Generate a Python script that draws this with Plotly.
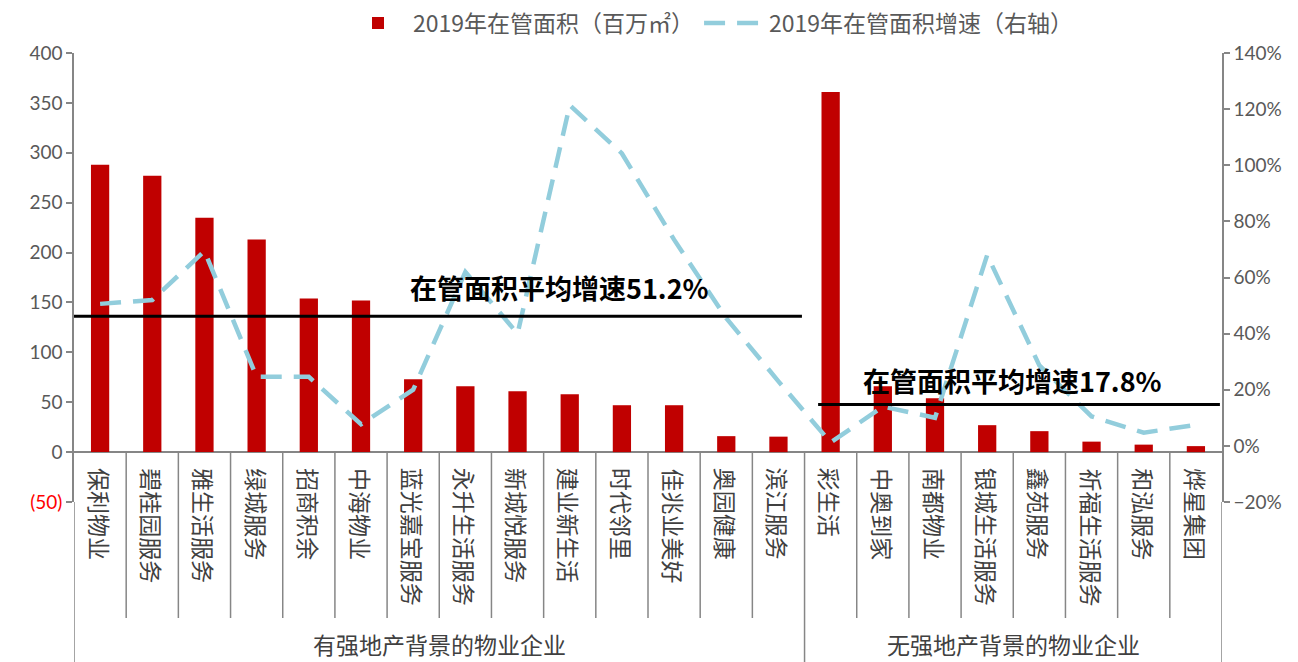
import plotly.graph_objects as go

# ---------------- data ----------------
group1 = ["保利物业", "碧桂园服务", "雅生活服务", "绿城服务", "招商积余", "中海物业", "蓝光嘉宝服务",
          "永升生活服务", "新城悦服务", "建业新生活", "时代邻里", "佳兆业美好", "奥园健康", "滨江服务"]
group2 = ["彩生活", "中奥到家", "南都物业", "银城生活服务", "鑫苑服务", "祈福生活服务", "和泓服务", "烨星集团"]
categories = group1 + group2
group_names = ["有强地产背景的物业企业", "无强地产背景的物业企业"]

area_2019 = [288, 277, 235, 213, 154, 152, 73, 66, 61, 58, 47, 47, 16, 15.5,
             361, 66, 54, 27, 21, 10.5, 7.5, 6]
growth_2019 = [0.506, 0.520, 0.694, 0.246, 0.246, 0.077, 0.20, 0.62, 0.40, 1.214, 1.042, 0.735, 0.455, 0.23,
               0.012, 0.14, 0.10, 0.68, 0.287, 0.105, 0.047, 0.075]

avg_labels = ["在管面积平均增速51.2%", "在管面积平均增速17.8%"]

left_tickvals = [-50, 0, 50, 100, 150, 200, 250, 300, 350, 400]
left_ticktext = ["<span style='color:#FF0000'>(50)</span>", "0", "50", "100", "150", "200", "250", "300", "350", "400"]

# ---------------- styling ----------------
W, H = 1298, 662
L, R, T, B = 74, 76, 53, 160
plot_h = H - T - B
BAR_RED = "#C00000"
LINE_BLUE = "#92CDDC"
AXIS_GRAY = "#868686"
TXT_GRAY = "#595959"
CJK = "Noto Sans CJK SC"
NUM = "Lato, 'Open Sans', sans-serif"

def py(pix):
    """pixel y (from top) -> paper fraction"""
    return (H - B - pix) / plot_h

fig = go.Figure()
fig.add_trace(go.Bar(
    x=categories, y=area_2019, name="2019年在管面积（百万㎡）",
    marker=dict(color=BAR_RED, line=dict(width=0)), width=0.35, yaxis="y",
))
fig.add_trace(go.Scatter(
    x=categories, y=growth_2019, name="2019年在管面积增速（右轴）", mode="lines",
    line=dict(color=LINE_BLUE, width=4.5, dash="21px,12px"), yaxis="y2",
))

shapes = []
annotations = []
n1, n = len(group1), len(categories)

# category separators (between categories), from zero line down
for i in range(1, n):
    if i == n1:
        continue
    shapes.append(dict(type="line", xref="x", yref="paper", x0=i - 0.5, x1=i - 0.5,
                       y0=py(452), y1=py(618), line=dict(color=AXIS_GRAY, width=1.5)))
# group separators
shapes.append(dict(type="line", xref="x", yref="paper", x0=-0.5, x1=-0.5, y0=0, y1=py(662),
                   line=dict(color=AXIS_GRAY, width=1.5)))
shapes.append(dict(type="line", xref="x", yref="paper", x0=n1 - 0.5, x1=n1 - 0.5, y0=py(452), y1=py(662),
                   line=dict(color=AXIS_GRAY, width=1.5)))
shapes.append(dict(type="line", xref="x", yref="paper", x0=n - 0.5, x1=n - 0.5, y0=0, y1=py(662),
                   line=dict(color=AXIS_GRAY, width=1.5)))

# category labels (vertical)
for c in categories:
    annotations.append(dict(x=c, xref="x", y=py(466), yref="paper", text=c, textangle=90,
                            showarrow=False, xanchor="center", yanchor="top",
                            font=dict(family=CJK, size=23, color="#404040")))
# group labels
annotations.append(dict(x=(n1 - 1) / 2, xref="x", y=py(644), yref="paper", text=group_names[0],
                        showarrow=False, xanchor="center", yanchor="middle",
                        font=dict(family=CJK, size=23, color="#404040")))
annotations.append(dict(x=(n1 + n - 1) / 2, xref="x", y=py(644), yref="paper", text=group_names[1],
                        showarrow=False, xanchor="center", yanchor="middle",
                        font=dict(family=CJK, size=23, color="#404040")))

# average-growth annotation lines and texts
shapes.append(dict(type="line", xref="x", yref="y2", x0=-0.5, x1=13.45, y0=0.462, y1=0.462,
                   line=dict(color="black", width=3)))
shapes.append(dict(type="line", xref="x", yref="y2", x0=13.76, x1=21.46, y0=0.147, y1=0.147,
                   line=dict(color="black", width=3)))
annotations.append(dict(x=8.81, xref="x", y=0.566, yref="y2", text="<b>" + avg_labels[0] + "</b>",
                        showarrow=False, xanchor="center", yanchor="middle",
                        font=dict(family=CJK, size=27, color="black")))
annotations.append(dict(x=17.48, xref="x", y=0.233, yref="y2", text="<b>" + avg_labels[1] + "</b>",
                        showarrow=False, xanchor="center", yanchor="middle",
                        font=dict(family=CJK, size=27, color="black")))

fig.update_layout(
    width=W, height=H,
    margin=dict(l=L, r=R, t=T, b=B, pad=0, autoexpand=False),
    paper_bgcolor="white", plot_bgcolor="white",
    showlegend=True,
    legend=dict(orientation="h", xref="container", x=711 / W, xanchor="center",
                yref="container", y=1 - 23 / H, yanchor="middle",
                font=dict(family=CJK, size=23, color=TXT_GRAY), bgcolor="rgba(0,0,0,0)",
                itemwidth=60, tracegroupgap=0),
    xaxis=dict(type="category", range=[-0.5, n - 0.5], showticklabels=False, ticks="",
               showline=False, showgrid=False, zeroline=False, fixedrange=True),
    yaxis=dict(range=[-50, 400], tickvals=left_tickvals, ticktext=left_ticktext,
               showgrid=False, zeroline=True, zerolinecolor=AXIS_GRAY, zerolinewidth=2,
               showline=True, linecolor=AXIS_GRAY, linewidth=1.5,
               ticks="outside", ticklen=6, tickcolor=AXIS_GRAY, tickwidth=1.5,
               tickfont=dict(family=NUM, size=19, color=TXT_GRAY)),
    yaxis2=dict(range=[-0.2, 1.4], dtick=0.2, tickformat=".0%", overlaying="y", side="right",
                showgrid=False, zeroline=False,
                showline=True, linecolor=AXIS_GRAY, linewidth=1.5,
                ticks="outside", ticklen=6, tickcolor=AXIS_GRAY, tickwidth=1.5,
                tickfont=dict(family=NUM, size=19, color=TXT_GRAY)),
    shapes=shapes, annotations=annotations,
    bargap=0.65,
)

fig.write_html("out.html")
